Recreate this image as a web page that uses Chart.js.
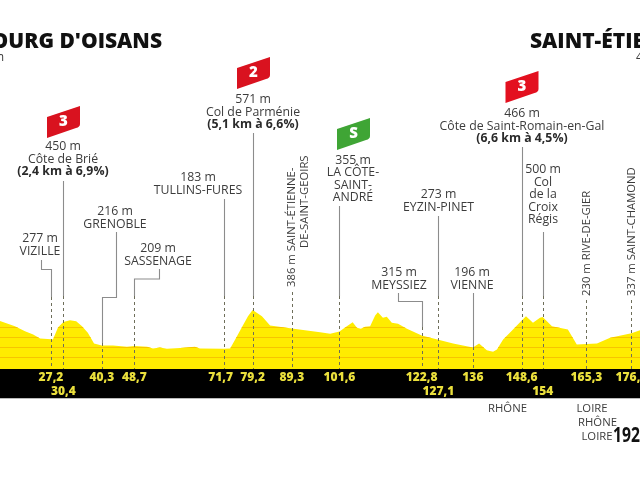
<!DOCTYPE html>
<html lang="fr">
<head>
<meta charset="utf-8">
<title>Profil de l'étape</title>
<script src="https://cdn.jsdelivr.net/npm/chart.js@4/dist/chart.umd.min.js"></script>
<style>
    html, body { margin: 0; padding: 0; background: #fff; }
    canvas { display: block; }
</style>
</head>
<body>
<canvas id="profileChart" width="640" height="480"></canvas>
<script>
// Stage profile: distance (km) and altitude (m)
const profileKm = [14, 17.9, 20.5, 22.6, 24.4, 27.2, 27.7, 29, 30.4, 32.1, 33.7, 35.2, 36.7, 38.3, 40.3, 43.2, 46.8, 48.7, 52, 53.5, 55.3, 57.1, 60.5, 64.3, 65.6, 71.7, 73.4, 74.7, 76.5, 78, 79.2, 81.6, 83.7, 87, 89.3, 96.6, 99.2, 101.6, 103.5, 105, 106.1, 107.1, 108.2, 109.5, 110.8, 111.5, 112.8, 113.8, 115.1, 116.7, 119, 122.8, 127.1, 130.9, 136, 137.6, 139.6, 141.2, 142.2, 143.8, 146.1, 148.6, 149.7, 151.5, 153.3, 154, 156.4, 160.5, 162.8, 165.3, 168, 171.4, 176.9, 179.1, 180];
const profileAlt = [460, 408, 358, 325, 285, 277, 275, 395, 450, 468, 458, 408, 342, 235, 216, 215, 202, 209, 202, 185, 195, 182, 190, 202, 185, 183, 184, 275, 402, 508, 571, 508, 415, 398, 386, 348, 332, 355, 408, 448, 392, 382, 402, 408, 515, 548, 492, 502, 442, 432, 382, 315, 273, 235, 196, 235, 168, 152, 175, 275, 365, 466, 508, 442, 492, 500, 408, 375, 225, 230, 235, 292, 337, 368, 375];

// Orange altitude bands inside the profile
const altitudeTicks = [100, 200, 300, 400];

// Points along the route
const markerKm = [27.2, 30.4, 40.3, 48.7, 71.7, 79.2, 89.3, 101.6, 122.8, 127.1, 136, 148.6, 154, 165.3, 176.9];
const markerKmLabels = ['27,2', '30,4', '40,3', '48,7', '71,7', '79,2', '89,3', '101,6', '122,8', '127,1', '136', '148,6', '154', '165,3', '176,9'];
const markerAlt = [277, 450, 216, 209, 183, 571, 386, 355, 315, 273, 196, 466, 500, 230, 337];
const markerNames = ['VIZILLE', 'Côte de Brié', 'GRENOBLE', 'SASSENAGE', 'TULLINS-FURES', 'Col de Parménie', 'SAINT-ÉTIENNE-|DE-SAINT-GEOIRS', 'LA CÔTE-|SAINT-|ANDRÉ', 'MEYSSIEZ', 'EYZIN-PINET', 'VIENNE', 'Côte de Saint-Romain-en-Gal', 'Col|de la|Croix|Régis', 'RIVE-DE-GIER', 'SAINT-CHAMOND'];
const markerClimbs = ['', '(2,4 km à 6,9%)', '', '', '', '(5,1 km à 6,6%)', '', '', '', '', '', '(6,6 km à 4,5%)', '', '', ''];

const startName = "BOURG D'OISANS";
const startAlt = '720 m';
const finishName = 'SAINT-ÉTIENNE';
const finishAlt = '430 m';
const totalKm = '192,5';
const departments = ['RHÔNE', 'LOIRE', 'RHÔNE', 'LOIRE'];

const YELLOW = '#ffec00';
const BAND_H = 29;
const TEXT = '#3c3c3c';
const FONT = '"Open Sans", sans-serif';

// Where each label block and its leader go on the page
const markerLayout = [
    { tx: 40, ty: 238.7, solidTo: 297, bendY: 269.5, bendX: 41.5, top: 260, row: 0 },
    { tx: 63, ty: 146.7, solidTo: 296, top: 181, row: 1 },
    { tx: 115, ty: 211.7, solidTo: 343, bendY: 297.5, bendX: 116.5, top: 232, row: 0 },
    { tx: 158, ty: 248.7, solidTo: 296, bendY: 279, bendX: 159.5, top: 269, row: 0 },
    { tx: 198, ty: 177.7, solidTo: 296, top: 199, row: 0, labelDx: -3 },
    { tx: 253, ty: 99.7, solidTo: 296, top: 133, row: 0 },
    { rotate: true, tx: 292, bottom: 287, solidTo: 292, row: 0 },
    { tx: 353, ty: 160.2, solidTo: 296, top: 206, row: 0 },
    { tx: 399, ty: 272.7, solidTo: 327, bendY: 301.5, bendX: 398.5, top: 293, row: 0 },
    { tx: 438.5, ty: 194.7, solidTo: 296, top: 216, row: 1 },
    { tx: 472, ty: 272.7, solidTo: 347, top: 293, row: 0 },
    { tx: 522, ty: 113.7, solidTo: 296, top: 147, row: 0 },
    { tx: 543, ty: 169.7, solidTo: 296, top: 232, row: 1 },
    { rotate: true, tx: 586.5, bottom: 296, solidTo: 300, row: 0 },
    { rotate: true, tx: 631.5, bottom: 296, solidTo: 300, row: 0 }
];

// Climb flags: km index, category text, colour
const flags = [
    { index: 1, text: '3', color: '#d9121f', left: 47, top: 106 },
    { index: 5, text: '2', color: '#d9121f', left: 237, top: 57 },
    { index: 7, text: 'S', color: '#3fa535', left: 337, top: 118 },
    { index: 11, text: '3', color: '#e3101f', left: 505.5, top: 71 }
];

function drawText(ctx, text, x, y, font, color, align) {
    ctx.font = font;
    ctx.fillStyle = color;
    ctx.textAlign = align || 'center';
    ctx.textBaseline = 'middle';
    ctx.fillText(text, x, y);
}

function drawFlag(ctx, f) {
    const l = f.left, t = f.top, r = l + 33, b = t + 32;
    ctx.fillStyle = f.color;
    ctx.beginPath();
    ctx.moveTo(l, t + 11);
    ctx.lineTo(r, t);
    ctx.lineTo(r, b - 14);
    ctx.quadraticCurveTo(r, b - 11, r - 4, b - 10);
    ctx.lineTo(l, b);
    ctx.closePath();
    ctx.fill();
    drawText(ctx, f.text, l + 16.5, t + 15.5, '800 15px ' + FONT, '#fff');
}

function drawLeader(ctx, x, layout, bandTop) {
    const px = Math.round(x) + 0.5;
    ctx.save();
    ctx.strokeStyle = '#8c8c8c';
    ctx.lineWidth = 1.1;
    if (layout.top !== undefined) {
        ctx.beginPath();
        ctx.moveTo(px, layout.solidTo);
        if (layout.bendY !== undefined) {
            ctx.lineTo(px, layout.bendY);
            ctx.lineTo(layout.bendX, layout.bendY);
            ctx.lineTo(layout.bendX, layout.top);
        } else {
            ctx.lineTo(px, layout.top);
        }
        ctx.stroke();
    }
    ctx.strokeStyle = '#6e6e5a';
    ctx.lineWidth = 1;
    ctx.setLineDash([3, 3]);
    ctx.beginPath();
    ctx.moveTo(px, layout.solidTo);
    ctx.lineTo(px, bandTop);
    ctx.stroke();
    ctx.restore();
}

function drawMarkerText(ctx, i, layout) {
    const name = markerNames[i].split('|');
    if (layout.rotate) {
        ctx.save();
        ctx.translate(layout.tx, layout.bottom);
        ctx.rotate(-Math.PI / 2);
        drawText(ctx, markerAlt[i] + ' m ' + name[0], 0, 0, '11.3px ' + FONT, TEXT, 'left');
        if (name[1]) {
            drawText(ctx, name[1], 39, 13, '11.3px ' + FONT, TEXT, 'left');
        }
        ctx.restore();
        return;
    }
    const lines = [markerAlt[i] + ' m'].concat(name);
    let y = layout.ty;
    lines.forEach(function (line) {
        drawText(ctx, line, layout.tx, y, '12.3px ' + FONT, TEXT);
        y += 12.5;
    });
    if (markerClimbs[i]) {
        drawText(ctx, markerClimbs[i], layout.tx, y, '700 12.3px ' + FONT, '#2a2a2a');
    }
}

const stagePlugin = {
    id: 'stageProfile',
    afterDatasetsDraw(chart) {
        const ctx = chart.ctx;
        const xScale = chart.scales.x;
        const yScale = chart.scales.y;
        const bandTop = chart.chartArea.bottom;
        const points = chart.getDatasetMeta(0).data;

        // altitude bands, kept inside the yellow area
        ctx.save();
        ctx.beginPath();
        ctx.moveTo(points[0].x, bandTop);
        points.forEach(function (p) { ctx.lineTo(p.x, p.y); });
        ctx.lineTo(points[points.length - 1].x, bandTop);
        ctx.closePath();
        ctx.clip();
        ctx.strokeStyle = '#f7c400';
        ctx.lineWidth = 1;
        altitudeTicks.forEach(function (alt) {
            const y = Math.round(yScale.getPixelForValue(alt)) + 0.5;
            ctx.beginPath();
            ctx.moveTo(0, y);
            ctx.lineTo(640, y);
            ctx.stroke();
        });
        ctx.restore();

        // black distance band
        ctx.fillStyle = '#000';
        ctx.fillRect(0, bandTop, 640, BAND_H);
        ctx.fillStyle = '#bbb';
        ctx.fillRect(0, bandTop + BAND_H, 640, 1);

        markerKm.forEach(function (km, i) {
            const layout = markerLayout[i];
            const x = xScale.getPixelForValue(km);
            drawLeader(ctx, x, layout, bandTop);
            drawMarkerText(ctx, i, layout);
            const labelY = bandTop + (layout.row ? 22.5 : 8.5);
            drawText(ctx, markerKmLabels[i], x + (layout.labelDx || 0), labelY, '800 12px ' + FONT, '#eadf3c');
        });

        flags.forEach(function (f) { drawFlag(ctx, f); });

        // start and finish headings
        drawText(ctx, startName, 162, 42, '800 21px ' + FONT, '#111', 'right');
        drawText(ctx, startAlt, 4, 58, '12px ' + FONT, TEXT, 'right');
        drawText(ctx, finishName, 530, 42, '800 21px ' + FONT, '#111', 'left');
        drawText(ctx, finishAlt, 636, 58, '12px ' + FONT, TEXT, 'left');

        // departments under the band
        drawText(ctx, departments[0], 507.5, 409, '11.3px ' + FONT, TEXT);
        drawText(ctx, departments[1], 592, 409, '11.3px ' + FONT, TEXT);
        drawText(ctx, departments[2], 597.5, 423, '11.3px ' + FONT, TEXT);
        drawText(ctx, departments[3], 597, 436.5, '11.3px ' + FONT, TEXT);

        // total distance, squeezed into a condensed shape
        ctx.save();
        ctx.translate(613, 436);
        ctx.scale(0.73, 1);
        drawText(ctx, totalKm, 0, 0, '700 21.5px ' + FONT, '#111', 'left');
        ctx.restore();
    }
};

new Chart(document.getElementById('profileChart').getContext('2d'), {
    type: 'line',
    data: {
        datasets: [{
            data: profileKm.map(function (km, i) { return { x: km, y: profileAlt[i] }; }),
            backgroundColor: YELLOW,
            borderWidth: 0,
            pointRadius: 0,
            fill: 'start',
            tension: 0
        }]
    },
    options: {
        responsive: false,
        animation: false,
        layout: { padding: { bottom: 111 } },
        plugins: { legend: { display: false }, tooltip: { enabled: false } },
        scales: {
            x: { type: 'linear', display: false, min: 14.05, max: 179.1 },
            y: { display: false, min: -20, max: 3670 }
        }
    },
    plugins: [stagePlugin]
});
</script>
</body>
</html>
